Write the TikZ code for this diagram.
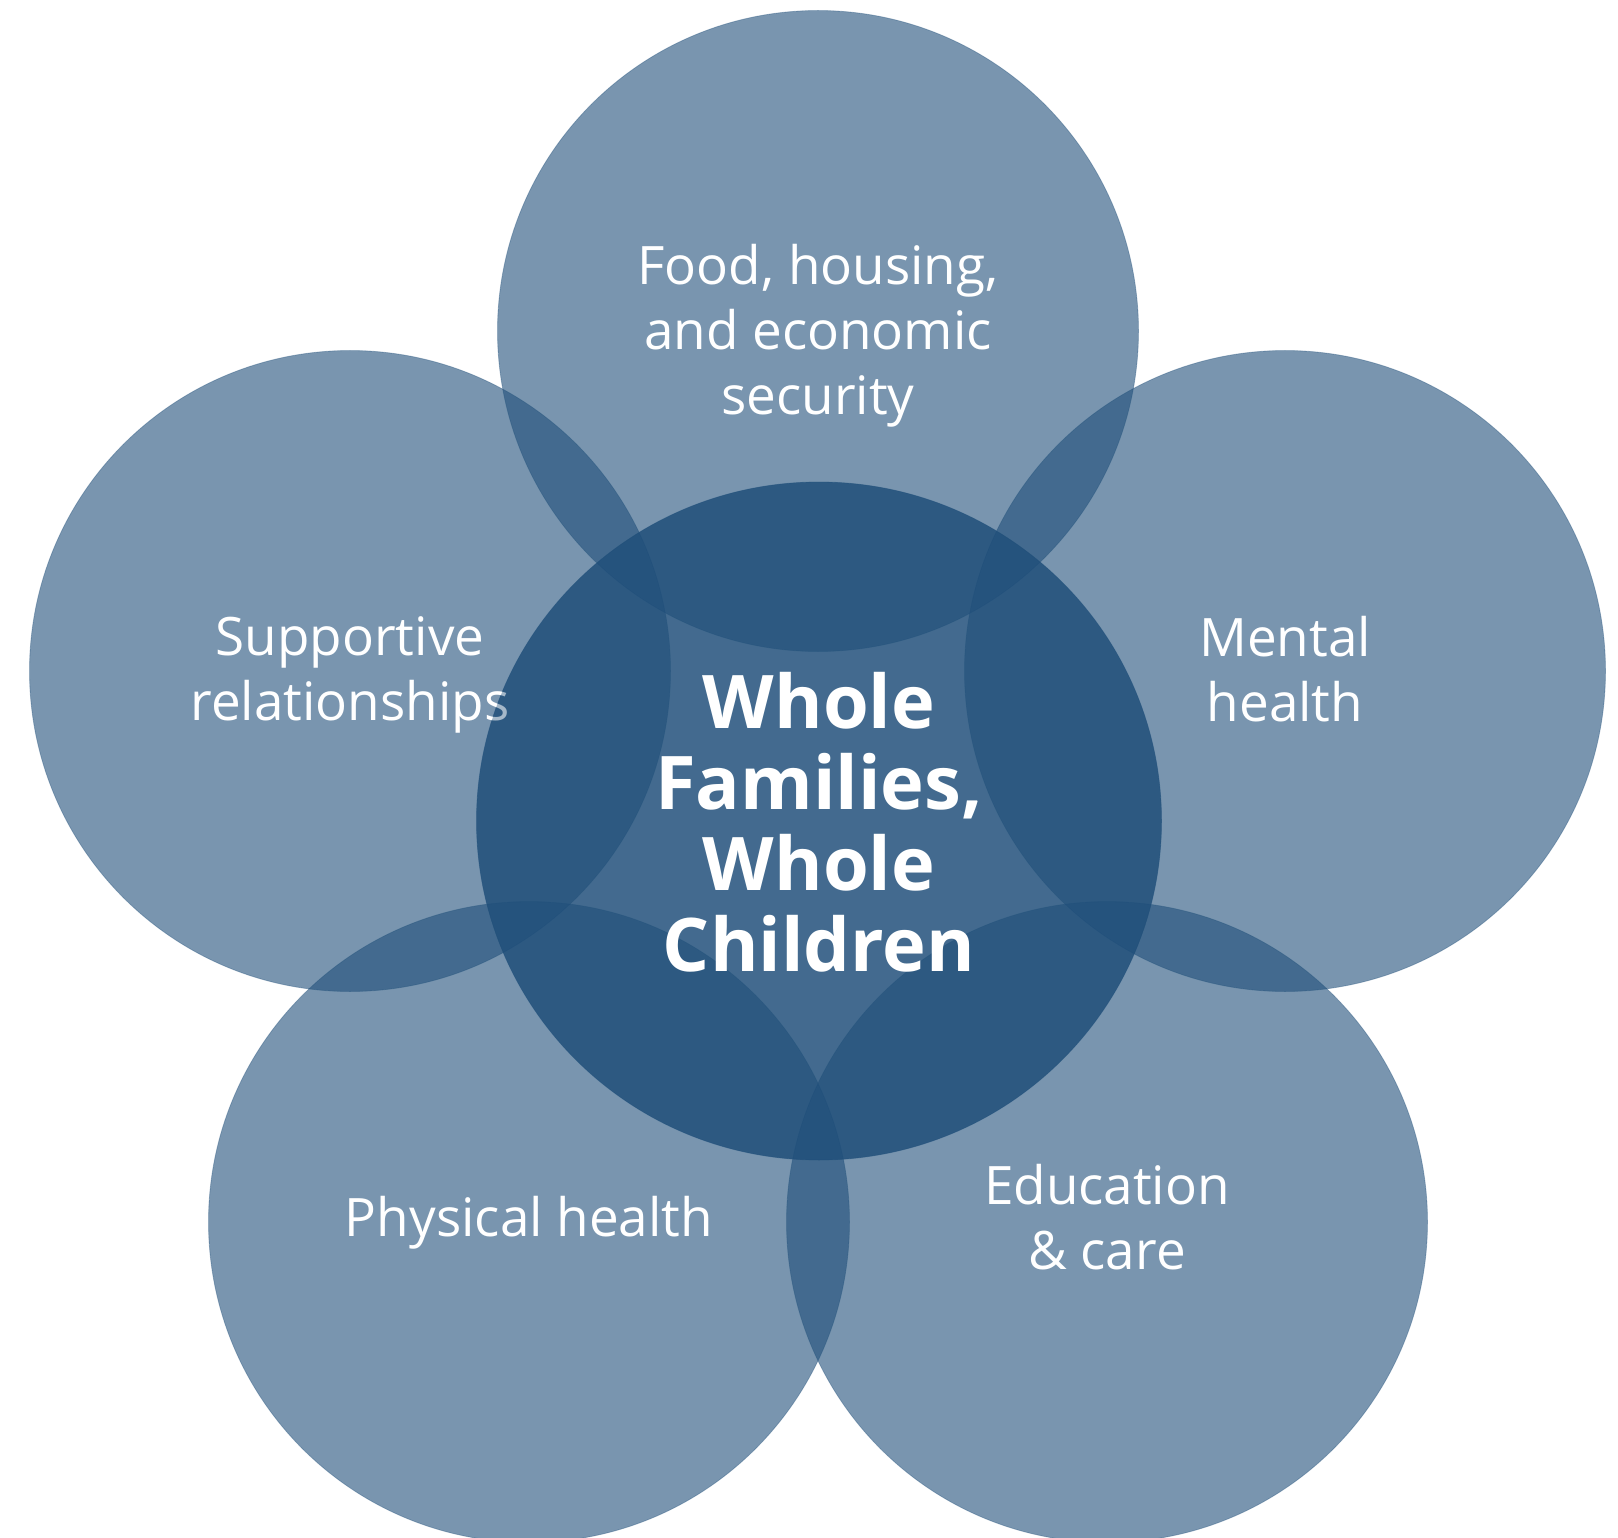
\documentclass[tikz,border=0pt]{standalone}
\usepackage{fontspec}
\setmainfont{Open Sans}
\usetikzlibrary{shapes.geometric}
\definecolor{cblue}{HTML}{1F4E79}
\begin{document}
\begin{tikzpicture}[x=1pt,y=-1pt,
  outer/.style={circle, minimum size=641pt, inner sep=0pt, fill=cblue, fill opacity=0.6,
    draw=cblue, draw opacity=0.35, line width=0.8pt},
  lbl/.style={text=white, align=center, font=\fontsize{53}{65}\selectfont, inner sep=0pt},
  ctr/.style={ellipse, minimum width=685pt, minimum height=678pt, inner sep=0pt, fill=cblue,
    fill opacity=0.733, draw=cblue, draw opacity=0.45, line width=0.8pt},
  ctrlbl/.style={text=white, align=center, font=\bfseries\fontsize{74}{81}\selectfont, inner sep=0pt}]
\useasboundingbox (0,0) rectangle (1618,1538);
% outer circles
\node[outer] (cfood) at (818,331) {};
\node[outer] (crel)  at (350,671) {};
\node[outer] (cment) at (1285,671) {};
\node[outer] (cphys) at (529,1222) {};
\node[outer] (cedu)  at (1107,1222) {};
% central circle, first layer
\node[ctr] (ccent) at (819,821) {};
% outer labels
\node[lbl] (tfood) at (818,336) {Food, housing,\\and economic\\security};
\node[lbl] (trel)  at (350,675) {Supportive\\relationships};
\node[lbl] (tment) at (1285,669) {Mental\\health};
\node[lbl] (tphys) at (529,1223) {Physical health};
\node[lbl] (tedu)  at (1107,1217) {Education\\\& care};
% central circle, second layer over the labels
\fill[cblue, fill opacity=0.4] (ccent.center) ellipse [x radius=342.5pt, y radius=339pt];
% central label
\node[ctrlbl] (tcent) at (819,822) {Whole\\Families,\\Whole\\Children};
\end{tikzpicture}
\end{document}
